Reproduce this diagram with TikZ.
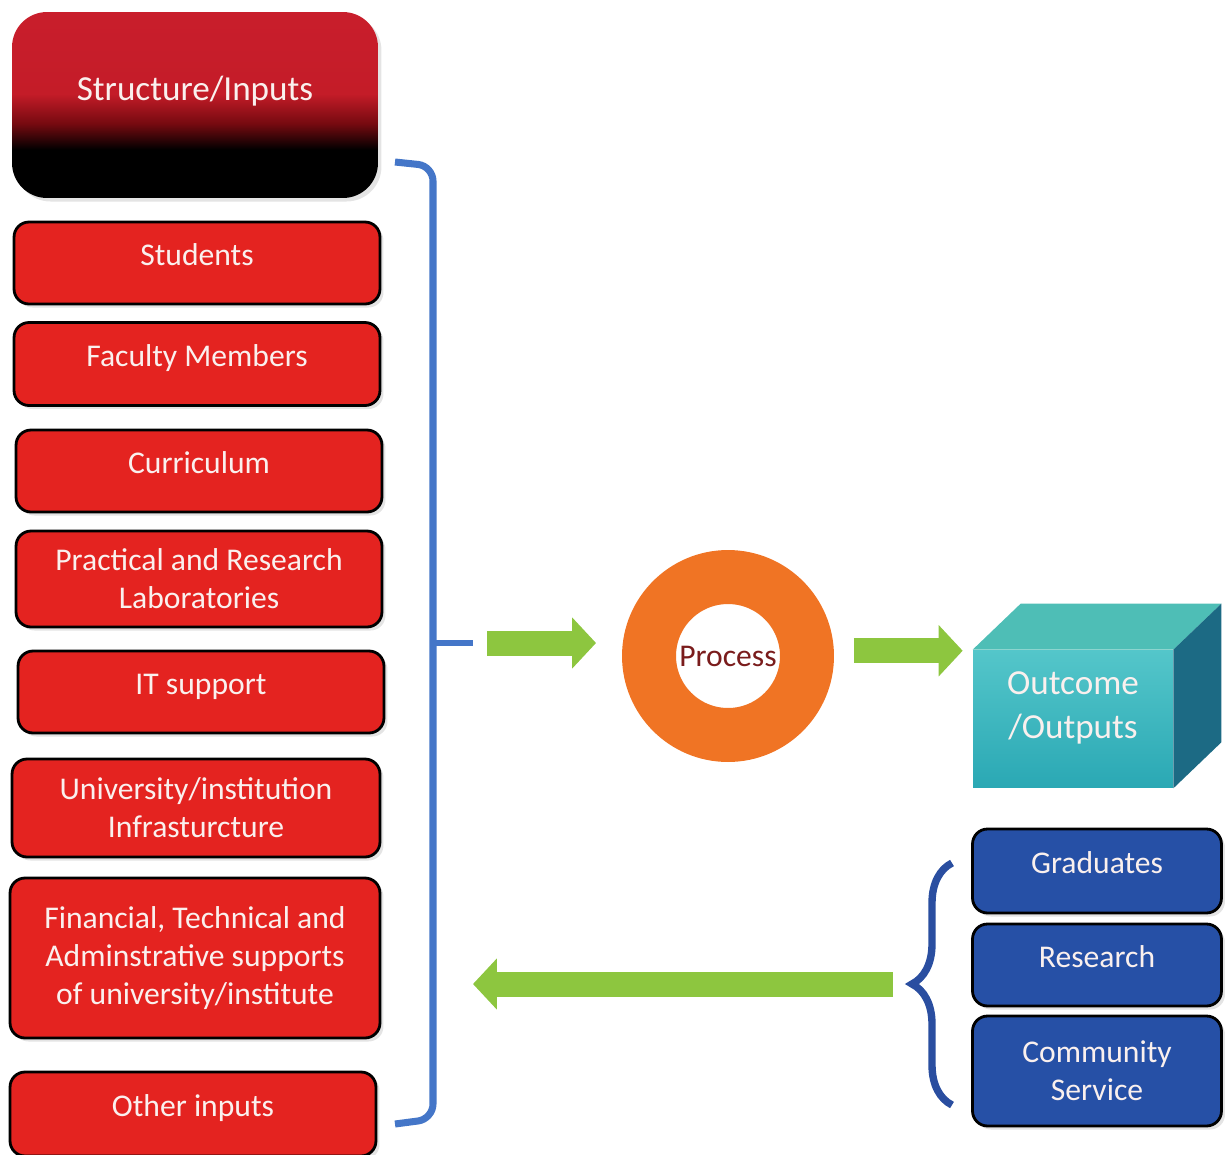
\documentclass[tikz,border=0pt]{standalone}
\usepackage{fontspec}
\setmainfont{Carlito}
\usetikzlibrary{positioning,calc,shadows,arrows.meta,decorations.pathreplacing}
\usepackage{xcolor}
\definecolor{boxred}{RGB}{228,35,32}
\definecolor{titletop}{RGB}{206,32,48}
\definecolor{titlered}{RGB}{196,28,40}
\definecolor{titledark}{RGB}{118,10,16}
\definecolor{ringorange}{RGB}{240,116,36}
\definecolor{procred}{RGB}{122,28,28}
\definecolor{arrowgreen}{RGB}{141,198,63}
\definecolor{bracketblue}{RGB}{68,118,200}
\definecolor{bracedarkblue}{RGB}{42,78,160}
\definecolor{outblue}{RGB}{38,80,166}
\definecolor{cubefront}{RGB}{84,198,202}
\definecolor{cubefrontlow}{RGB}{42,168,180}
\definecolor{cubetop}{RGB}{78,190,182}
\definecolor{cubeside}{RGB}{28,106,132}
\definecolor{textwhite}{RGB}{250,240,238}
\pgfdeclareverticalshading{titleshade}{100bp}{color(0bp)=(black); color(38bp)=(black); color(45bp)=(titledark); color(53bp)=(titlered); color(100bp)=(titletop)}
\tikzstyle{greenarrow} = [
    % draw=green!60!black,
    draw=arrowgreen,
    line width=0.5cm,
    -{Triangle[length=0.48cm, width=1.0cm]}
]

\begin{document}
\begin{tikzpicture}[
        x=0.02cm, y=-0.02cm,
        inbox/.style n args={2}{
            rectangle, rounded corners=0.3cm,
            draw=black, line width=1.6pt, fill=boxred,
            text=textwhite, align=center,
            font=\fontsize{18}{21.5}\selectfont,
            minimum width=#1, minimum height=#2,
            inner sep=2pt,
            drop shadow={fill=black!30, opacity=0.35, shadow xshift=2pt, shadow yshift=-2pt}
        },
        outbox/.style={inbox={4.98cm}{#1}, fill=outblue},
        oneline/.style={text height=13pt, text depth=10.4pt},
        titlebox/.style={
            rectangle, rounded corners=0.7cm,
            shading=titleshade,
            minimum width=7.32cm, minimum height=3.72cm,
            text=textwhite, font=\fontsize{20}{24}\selectfont,
            text depth=0.65cm,
            drop shadow={fill=black!30, opacity=0.35, shadow xshift=2pt, shadow yshift=-2pt}
        },
        ring/.style={
            circle, draw=ringorange, line width=1.08cm, fill=white,
            minimum size=3.16cm, inner sep=0pt,
            text=procred, font=\fontsize{18}{21.5}\selectfont
        },
        cubeface/.style={
            rectangle, inner sep=0pt,
            minimum width=4.0cm, minimum height=2.76cm,
            top color=cubefront, bottom color=cubefrontlow
        },
        cubetext/.style={text=textwhite, align=center, font=\fontsize{20}{25}\selectfont},
        bracket/.style={draw=bracketblue, line width=4pt, rounded corners=0.3cm},
        outbrace/.style={draw=bracedarkblue, line width=4.2pt, decorate, decoration={brace, amplitude=0.8cm}}
    ]
        \useasboundingbox (0,0) rectangle (1225,1154);
        \clip (0,0) rectangle (1225,1154);

        % inputs
        \node[titlebox] (title) at (195,105) {Structure/Inputs};
        \node[inbox={7.32cm}{1.64cm}, oneline] (students) at (197,263) {Students};
        \node[inbox={7.32cm}{1.66cm}, oneline] (faculty) at (197,364) {Faculty Members};
        \node[inbox={7.32cm}{1.64cm}, oneline] (curriculum) at (199,471) {Curriculum};
        \node[inbox={7.32cm}{1.92cm}] (labs) at (199,579) {Practical and Research\\Laboratories};
        \node[inbox={7.32cm}{1.64cm}, oneline] (itsupport) at (201,692) {IT support};
        \node[inbox={7.36cm}{1.96cm}] (infra) at (196,808) {University/institution\\Infrasturcture};
        \node[inbox={7.4cm}{3.2cm}] (support) at (195,958) {Financial, Technical and\\Adminstrative supports\\of university/institute};
        \node[inbox={7.32cm}{1.68cm}, oneline] (other) at (193,1114) {Other inputs};

        \draw[bracket] (395,162) -- (433,166) -- (433,1119) -- (395,1124);
        \coordinate (brtip) at (473,643);
        \draw[bracket, line width=3.5pt, rounded corners=0pt] (433,643) -- (brtip);

        % process
        \node[ring] (process) at (728,656) {Process};

        % outcome cube
        \node[cubeface] (outcome) at (1073,719) {};
        \fill[cubetop] (outcome.north west) -- ++(48,-46) -- ($(outcome.north east)+(48,-46)$) -- (outcome.north east) -- cycle;
        \fill[cubeside] (outcome.north east) -- ++(48,-46) -- ($(outcome.south east)+(48,-46)$) -- (outcome.south east) -- cycle;
        \node[cubetext] (outtext) at ($(outcome.center)+(0,-11)$) {Outcome\\/Outputs};

        % outputs
        \node[outbox={1.68cm}, oneline] (graduates) at (1097,871) {Graduates};
        \node[outbox={1.64cm}, oneline] (research) at (1097,965) {Research};
        \node[outbox={2.2cm}] (community) at (1097,1071) {Community\\Service};

        \coordinate (bracetop) at (952,863);
        \coordinate (bracebot) at (952,1105);
        \coordinate (bracetip) at (912,984);
        \draw[outbrace] (bracebot) -- (bracetop);

        % flow
        \coordinate (p2) at ([yshift=3pt]process.east);
        \draw[greenarrow, shorten <=0.28cm, shorten >=0.52cm] (brtip) -- (brtip -| process.west);
        \draw[greenarrow, shorten <=0.4cm, shorten >=0.2cm] (p2) -- (p2 -| outcome.west);
        \draw[greenarrow, shorten <=0.38cm] (bracetip) -- (bracetip -| brtip);
    \end{tikzpicture}
\end{document}
